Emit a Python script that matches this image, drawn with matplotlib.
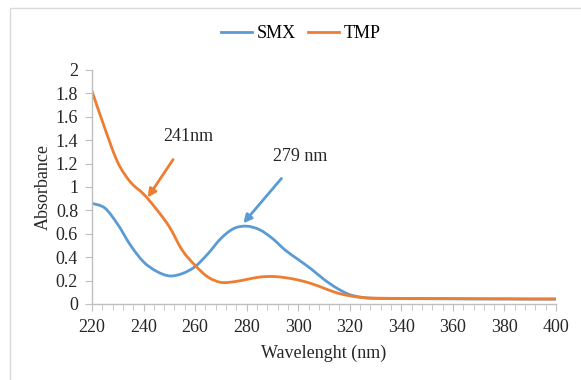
import numpy as np
import matplotlib.pyplot as plt
from matplotlib.patches import Rectangle, PathPatch
from matplotlib.path import Path
from matplotlib.lines import Line2D

plt.rcParams['font.family'] = ['Liberation Serif', 'DejaVu Serif']

wavelength = [220, 225, 230, 235, 240, 245, 250, 255, 260, 265, 270, 275, 280,
              285, 290, 295, 300, 305, 310, 315, 320, 325, 330, 340, 350, 360,
              370, 380, 390, 400]
smx = [0.86, 0.82, 0.68, 0.50, 0.36, 0.28, 0.24, 0.26, 0.32, 0.43, 0.56, 0.645, 0.665,
       0.635, 0.56, 0.46, 0.38, 0.30, 0.21, 0.135, 0.08, 0.056, 0.048, 0.046, 0.045, 0.044,
       0.043, 0.043, 0.042, 0.042]
tmp = [1.82, 1.50, 1.21, 1.04, 0.94, 0.81, 0.66, 0.46, 0.33, 0.23, 0.185, 0.19, 0.21,
       0.23, 0.235, 0.225, 0.205, 0.175, 0.135, 0.095, 0.07, 0.055, 0.05, 0.048, 0.047, 0.046,
       0.045, 0.044, 0.043, 0.043]

blue = '#5B9BD5'
orange = '#ED7D31'
grey = '#BFBFBF'
txt = '#262626'


def smooth_path(x, y):
    # Excel-style smoothed line: cubic bezier segments through the points
    p = np.column_stack([x, y]).astype(float)
    verts = [p[0]]
    codes = [Path.MOVETO]
    n = len(p)
    for i in range(n - 1):
        p0 = p[i - 1] if i > 0 else p[i]
        p3 = p[i + 2] if i + 2 < n else p[i + 1]
        c1 = p[i] + (p[i + 1] - p0) / 6
        c2 = p[i + 1] - (p3 - p[i]) / 6
        verts += [c1, c2, p[i + 1]]
        codes += [Path.CURVE4] * 3
    return Path(verts, codes)


fig = plt.figure(figsize=(5.81, 3.80), dpi=100)
ax = fig.add_axes([92/581, 76/380, 464/581, 234/380])

# outer chart frame
fig.patches.append(Rectangle((10/581, -0.2), 1.2, 1.2 - 8/380, transform=fig.transFigure,
                             fill=False, edgecolor='#D9D9D9', linewidth=1.0))

ax.add_patch(PathPatch(smooth_path(wavelength, smx), fill=False, edgecolor=blue, lw=2,
                       capstyle='round', joinstyle='round'))
ax.add_patch(PathPatch(smooth_path(wavelength, tmp), fill=False, edgecolor=orange, lw=2,
                       capstyle='round', joinstyle='round'))

ax.set_xlim(220, 400)
ax.set_ylim(0, 2)
ax.set_xticks(np.arange(220, 401, 20))
ax.set_xticks(np.arange(220, 401, 4), minor=True)
ax.set_yticks(np.arange(0, 2.01, 0.2))
ax.set_yticklabels(['0', '0.2', '0.4', '0.6', '0.8', '1', '1.2', '1.4', '1.6', '1.8', '2'])

for s in ['top', 'right']:
    ax.spines[s].set_visible(False)
for s in ['left', 'bottom']:
    ax.spines[s].set_color(grey)
    ax.spines[s].set_linewidth(1.0)
ax.tick_params(axis='both', which='both', color=grey, labelsize=13, labelcolor=txt)
ax.tick_params(axis='both', which='major', length=5)
ax.tick_params(axis='x', which='minor', length=4)
ax.tick_params(axis='x', pad=6)
ax.tick_params(axis='y', pad=5)

ax.set_xlabel('Wavelenght (nm)', fontsize=13, color=txt, labelpad=6)
ax.set_ylabel('Absorbance', fontsize=13, color=txt, labelpad=3)

ax.annotate('241nm', xy=(241.6, 0.91), xytext=(257.4, 1.43), fontsize=13, color=txt,
            ha='center', va='center',
            arrowprops=dict(arrowstyle='-|>', color=orange, lw=2, mutation_scale=12,
                            shrinkA=10, shrinkB=0))
ax.annotate('279 nm', xy=(278.7, 0.69), xytext=(300.7, 1.26), fontsize=13, color=txt,
            ha='center', va='center',
            arrowprops=dict(arrowstyle='-|>', color=blue, lw=2, mutation_scale=12,
                            shrinkA=10, shrinkB=0))

handles = [Line2D([], [], color=blue, lw=2), Line2D([], [], color=orange, lw=2)]
fig.legend(handles, ['SMX', 'TMP'], loc='center', bbox_to_anchor=(301/581, 1 - 34/380),
           ncol=2, frameon=False, fontsize=13, handlelength=1.7, handletextpad=0.25,
           columnspacing=0.7)

plt.savefig('out.png', dpi=100)
